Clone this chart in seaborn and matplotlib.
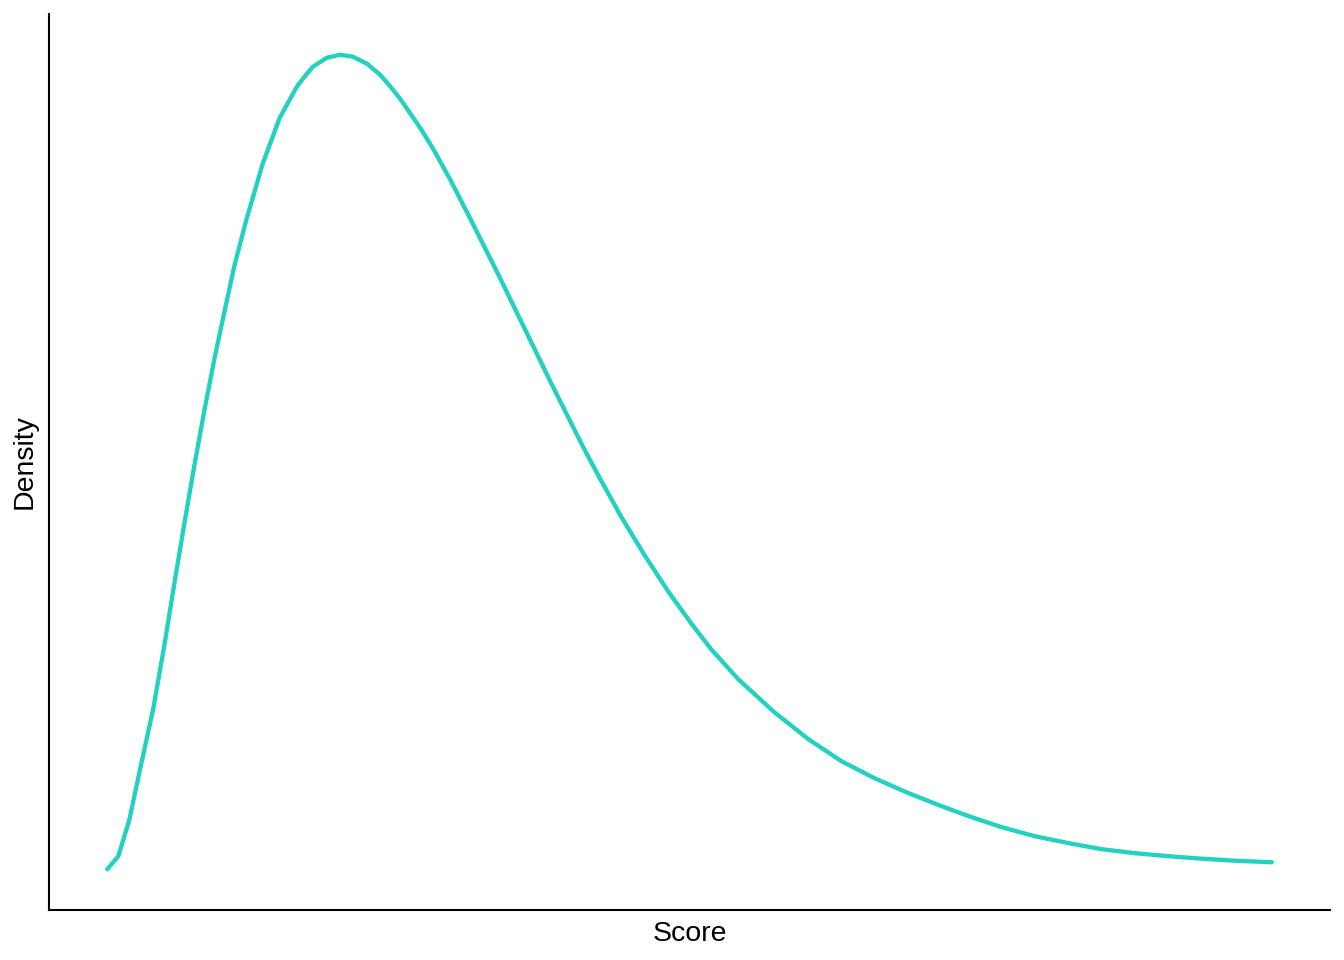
import matplotlib
matplotlib.use("Agg")
import matplotlib.pyplot as plt
import seaborn as sns
import pandas as pd

score = [0.0, 0.95, 1.89, 2.84, 3.96, 4.91, 5.77, 6.63, 7.49, 8.35, 9.22, 10.08,
         10.94, 11.97, 13.35, 14.81, 16.28, 16.97, 17.66, 18.86, 20.0, 21.1, 22.31,
         23.43, 24.29, 25.15, 26.87, 27.99, 29.46, 30.92, 32.3, 33.51, 35.06, 36.61,
         38.07, 39.53, 40.91, 42.38, 44.1, 46.08, 48.15, 50.13, 51.85, 54.18, 57.28,
         60.21, 63.05, 65.89, 68.82, 71.66, 73.99, 76.83, 79.67, 82.6, 85.44, 88.29,
         91.21, 94.06, 96.9, 100.0]
density = [0.0041, 0.0054, 0.0090, 0.0142, 0.0202, 0.0265, 0.0327, 0.0387, 0.0445,
           0.0500, 0.0552, 0.0599, 0.0645, 0.0691, 0.0746, 0.0792, 0.0823, 0.08335,
           0.0843, 0.0852, 0.0855, 0.0853, 0.0846, 0.0835, 0.08235, 0.0811, 0.0782,
           0.0761, 0.0730, 0.0697, 0.0665, 0.0637, 0.0600, 0.0563, 0.0528, 0.0494,
           0.0462, 0.0430, 0.0394, 0.0356, 0.0319, 0.0287, 0.0261, 0.0231, 0.0198,
           0.0171, 0.0149, 0.0132, 0.0117, 0.0104, 0.0094, 0.0083, 0.0074, 0.0067,
           0.0061, 0.0057, 0.0054, 0.00515, 0.00495, 0.0048]

df = pd.DataFrame({"Score": score, "Density": density})

sns.set_theme(style="white")
plt.rcParams["font.family"] = ["Liberation Sans", "DejaVu Sans"]

fig = plt.figure(figsize=(13.44, 9.6), dpi=100)
ax = fig.add_axes([49 / 1344, 50 / 960, (1330 - 49) / 1344, (910 - 14) / 960])

sns.lineplot(data=df, x="Score", y="Density", ax=ax, color="#22D1BF", linewidth=3.1)

ax.set_xticks([])
ax.set_yticks([])
for side in ["top", "right"]:
    ax.spines[side].set_visible(False)
for side in ["left", "bottom"]:
    ax.spines[side].set_color("black")
    ax.spines[side].set_linewidth(1.5)

ax.set_xlabel("Score", fontsize=20.5, color="black", labelpad=8)
ax.set_ylabel("Density", fontsize=20.5, color="black", labelpad=8)

fig.savefig("out.png", dpi=100, facecolor="white")
